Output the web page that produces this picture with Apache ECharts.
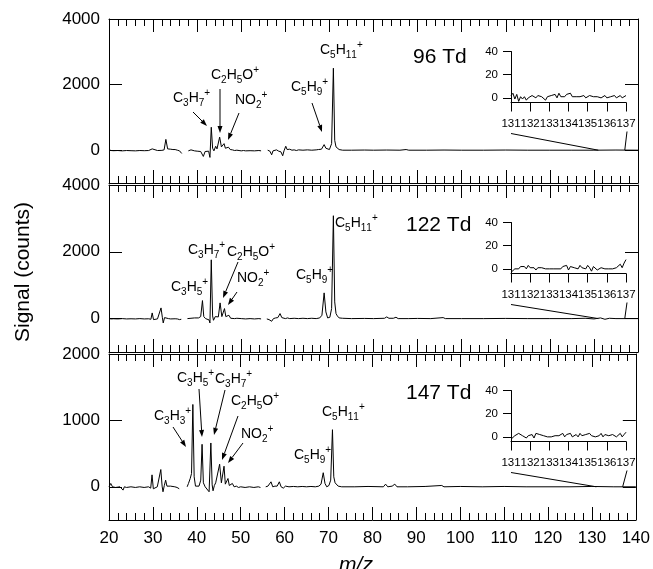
<!DOCTYPE html>
<html lang="en">
<head>
<meta charset="UTF-8" />
<title>Mass spectra</title>
<script src="https://cdn.jsdelivr.net/npm/echarts@6/dist/echarts.min.js"></script>
<style>body { margin: 0; background: #fff; }</style>
</head>
<body>
<div id="main" style="width: 653px; height: 569px;"></div>
<script>
// [m/z, signal], '-' = gap in the scan
const spec96 = [
  [20, 10], [20.2, -30], [20.5, -10], [21, -15], [22, -10], [23, -20], [24, -10], [25, -15], [26, -20], [27, -10],
  [28, -15], [29, -10], [29.8, 40], [30.1, -20], [31, -10], [32, -5], [32.5, 10], [32.9, 330], [33.3, 40], [34, 30],
  [34.5, 20], [35, 20], [35.5, 0], [36, -20], [36.3, -40], [36.5, -100], [36.8, '-'], [38, -20], [38.3, -60], [38.6, 10],
  [39, -40], [39.4, -20], [39.7, -50], [40, -30], [40.4, -60], [40.8, -40], [41.1, -20], [41.4, -190], [41.8, -40], [42.2, -60],
  [42.6, -30], [42.9, -220], [43.2, 700], [43.5, 60], [43.8, -20], [44.2, 120], [44.5, 40], [44.8, 80], [45.1, 400], [45.5, 100],
  [45.8, 60], [46.1, 200], [46.4, 60], [46.8, 30], [47.1, 90], [47.5, 20], [48, 10], [48.5, -10], [49, 0], [49.5, -10],
  [50, -20], [50.5, -10], [51, -20], [52, -15], [53, -20], [54, -10], [54.5, -20], [54.7, '-'], [56, 0], [56.5, -30],
  [56.9, -140], [57.2, -20], [57.6, -40], [58, 10], [58.5, -30], [59, -50], [59.4, -170], [59.7, -20], [60.1, 120], [60.4, 20],
  [61, 30], [61.5, 0], [62, 10], [62.5, -10], [63, 10], [64, 0], [65, 10], [66, 0], [67, 10], [67.5, 20],
  [68.2, 30], [68.8, 170], [69.2, 60], [69.6, 10], [70, 20], [70.5, 200], [70.9, 2500], [71.2, 300], [71.5, 100], [71.8, 60],
  [72.2, 20], [73, 0], [75, 0], [78, 5], [80, 0], [83, 5], [86, 0], [87.4, 20], [88, 0], [92, 0],
  [96, 5], [100, 0], [105, 0], [110, 5], [115, 0], [120, 0], [125, 0], [130, 0], [135, 5], [140, 0]
];
const spec122 = [
  [20, 0], [20.5, -10], [21, -5], [22, -10], [23, 0], [24, -10], [25, -5], [26, -10], [27, 0], [28, -10],
  [29, -5], [29.5, -20], [29.8, 170], [30.1, -30], [30.5, 0], [31, -10], [31.4, 20], [31.8, 320], [32.1, 40], [32.3, -130],
  [32.6, 30], [33, 10], [33.5, 0], [34, -10], [35, -5], [35.5, -10], [36, -30], [36.4, -20], [36.6, '-'], [37.8, 0],
  [38.2, -20], [38.6, 10], [39, -10], [39.4, 20], [39.8, 0], [40.3, 20], [40.8, 60], [41.2, 540], [41.5, 60], [41.9, 0],
  [42.3, 10], [42.7, -40], [42.9, -130], [43.2, 1760], [43.5, 80], [43.7, -50], [44.1, 60], [44.4, 20], [44.8, 50], [45.2, 470],
  [45.6, 60], [45.9, 60], [46.2, 300], [46.5, 60], [46.9, 20], [47.2, 100], [47.6, 10], [48, 20], [48.5, 0], [49, 10],
  [50, 0], [51, -10], [52, 0], [53, -10], [54, 0], [54.5, -10], [54.7, '-'], [55.8, -10], [56.3, -30], [56.9, -80],
  [57.3, 0], [57.8, 20], [58.3, 30], [58.8, 150], [59.2, 30], [59.6, 60], [60, 0], [60.5, 20], [61, 0], [62, 10],
  [63, 0], [64, 10], [65, 0], [66, 10], [67, 0], [67.8, 20], [68.3, 100], [68.8, 770], [69.2, 200], [69.6, 20],
  [70.1, 40], [70.5, 300], [70.9, 3080], [71.2, 500], [71.5, 150], [71.8, 80], [72.2, 20], [73, 10], [75, 0], [78, 5],
  [80, 0], [82.5, 10], [83, 50], [83.5, 10], [84.5, 10], [85.1, 40], [85.6, 0], [88, 0], [90, 5], [93, 0],
  [95.8, 30], [96.3, 0], [100, 0], [105, 0], [110, 5], [115, 0], [120, 0], [125, 0], [128, 10], [130, -10],
  [131.5, 20], [132.5, -20], [133.5, 10], [135, 0], [140, 0]
];
const spec147 = [
  [20, 0], [20.4, 50], [20.8, 0], [21.5, -10], [22.5, 0], [23.2, -50], [23.5, 0], [24, -10], [25, 0], [26, -10],
  [27, 0], [28, -10], [29, 0], [29.5, -20], [29.8, 180], [30.1, -30], [30.4, 0], [31, 0], [31.4, 20], [31.8, 260],
  [32.1, 10], [32.3, -75], [32.6, 20], [32.9, 100], [33.2, 10], [33.6, 0], [34, 10], [35, 0], [35.5, -10], [36, -30],
  [36.2, '-'], [37.8, 0], [38.1, 50], [38.5, 125], [38.8, 200], [39.1, 1240], [39.4, 150], [39.7, 10], [40.1, 0], [40.5, 10],
  [40.9, 100], [41.2, 640], [41.5, 60], [41.9, 0], [42.3, 10], [42.8, -75], [43.2, 660], [43.5, 30], [43.7, -60], [44, 20],
  [44.3, 60], [44.7, 30], [45.2, 340], [45.6, 60], [45.8, 60], [46.2, 310], [46.5, 40], [46.8, 30], [47.1, 125], [47.4, 20],
  [47.8, 10], [48.1, 50], [48.5, 0], [49, 10], [49.5, -10], [50, 0], [51, -10], [52, 0], [53, -10], [54, 0],
  [54.5, -10], [54.7, '-'], [55.7, 0], [56.2, 10], [56.9, 75], [57.3, 0], [57.8, 10], [58.3, 10], [58.8, 75], [59.2, 0],
  [59.7, -20], [60.2, 10], [61, 0], [62, 5], [63, 0], [64, 5], [65, 0], [66, 5], [67, 0], [67.8, 10],
  [68.3, 40], [68.8, 212], [69.2, 50], [69.6, 0], [70.1, 20], [70.5, 100], [70.9, 860], [71.2, 150], [71.5, 60], [71.8, 30],
  [72.2, 10], [73, 0], [76, 0], [79, 5], [82.5, 0], [83, 40], [83.5, 0], [84.5, 10], [85.1, 40], [85.6, 0],
  [88, 0], [92, 5], [95.8, 20], [96.3, 0], [100, 5], [105, 0], [110, 5], [115, 0], [120, 0], [125, 0],
  [130, 5], [135, 0], [140, 0]
];

// insets: m/z 131-137
const insetMz = [
  131, 131.1, 131.2, 131.3, 131.4, 131.5, 131.6, 131.7, 131.8, 131.9,
  132, 132.1, 132.2, 132.3, 132.4, 132.5, 132.6, 132.7, 132.8, 132.9,
  133, 133.1, 133.2, 133.3, 133.4, 133.5, 133.6, 133.7, 133.8, 133.9,
  134, 134.1, 134.2, 134.3, 134.4, 134.5, 134.6, 134.7, 134.8, 134.9,
  135, 135.1, 135.2, 135.3, 135.4, 135.5, 135.6, 135.7, 135.8, 135.9,
  136, 136.1, 136.2, 136.3, 136.4, 136.5, 136.6, 136.7, 136.8, 136.9,
  137
];
const inset96 = [2, 4, -1, 3, -3, 1, -1, 1, -2, 0, 1, 2, 1, 0, 2, 2, 1, 2, -2, 1, 0, 2, 1, 3, 0, 4, 1, 2, 1, 3,
  2, 4, 1, 2, 1, 2, 1, 1, 2, 0, 1, 2, 1, 1, 0, 1, 1, 0, 1, 2, 0, 1, 1, 0, 2, 0, 1, 2, 0, 1, 2];
const inset122 = [-3, -2, 0, 1, 0, 2, 1, 2, 0, 3, 1, 0, 1, -1, 1, 2, 1, 2, 0, 1, 0, -1, 0, 1, 0, 1, 0, 2, 1, 3,
  -1, 2, 3, 1, 2, 0, 3, 1, 2, 0, 3, 1, -2, 2, 1, -1, 0, 1, 0, 0, 1, 0, 1, 0, 1, 1, 0, 4, 1, 5, 8];
const inset147 = [-2, -1, 1, 0, 3, 4, 1, 2, -1, 1, 0, 2, -1, 3, 2, 2, 1, 1, 0, 0, -1, 0, 0, 1, 0, 1, 1, 3, 0, 2,
  1, 3, 0, 1, 2, 0, 3, 1, 0, 2, 1, 3, 1, 2, 0, 1, 1, 3, 0, 2, 3, 1, 0, 2, 1, 0, 1, 3, 0, 2, 4];

const panelNames = ['96 Td', '122 Td', '147 Td'];
const yRanges = [[-1000, 4000], [-1000, 4000], [-500, 2000]];
const yTickValues = [[0, 2000, 4000], [0, 2000, 4000], [0, 1000, 2000]];
const insetTickValues = [0, 20, 40];

// ion labels: formula, label left / middle, optional arrow [x1, y1, x2, y2]
const ionLabels = [
  [
    ['C_3H_7^+', 173, 98, [193, 112, 207, 126]],
    ['C_2H_5O^+', 211, 75, [220, 89, 220, 133]],
    ['NO_2^+', 235, 100, [239, 113, 228, 140]],
    ['C_5H_9^+', 291, 87, [312, 103, 322, 132]],
    ['C_5H_1_1^+', 320, 50]
  ],
  [
    ['C_3H_5^+', 171, 287],
    ['C_3H_7^+', 188, 250],
    ['C_2H_5O^+', 227, 252, [238, 262, 223, 298]],
    ['NO_2^+', 237, 278, [237, 292, 228, 305]],
    ['C_5H_9^+', 296, 275],
    ['C_5H_1_1^+', 335, 223]
  ],
  [
    ['C_3H_3^+', 154, 416, [173, 427, 186, 447]],
    ['C_3H_5^+', 177, 378, [199, 389, 202, 437]],
    ['C_3H_7^+', 215, 379, [225, 390, 214, 435]],
    ['C_2H_5O^+', 231, 401, [238, 416, 222, 460]],
    ['NO_2^+', 241, 434, [243, 443, 228, 463]],
    ['C_5H_9^+', 294, 455],
    ['C_5H_1_1^+', 322, 412]
  ]
];

const font = 'Liberation Sans, Arial, sans-serif';
const black = '#000';
const plain = v => String(v);
const panels = [
  { top: 19, height: 164, spec: spec96, inset: inset96, insetTop: 51.5, name: [413, 57] },
  { top: 185, height: 167, spec: spec122, inset: inset122, insetTop: 222.5, name: [406, 225] },
  { top: 354, height: 166, spec: spec147, inset: inset147, insetTop: 390.5, name: [406, 393] }
];

const myChart = echarts.init(document.getElementById('main'));

const grid = [], xAxis = [], yAxis = [], series = [];
panels.forEach((p, i) => {
  grid.push({ left: 109, right: 15, top: p.top, height: p.height });
  const xBase = {
    gridIndex: i, type: 'value', min: 20, max: 140, interval: 10,
    axisLine: { onZero: false, lineStyle: { color: black, width: 1 } },
    axisTick: { inside: true, length: 13, lineStyle: { color: black } },
    minorTick: { show: true, splitNumber: 5, length: 7, lineStyle: { color: black } },
    splitLine: { show: false }
  };
  xAxis.push(Object.assign({}, xBase, {
    position: 'bottom',
    axisLabel: { show: i === 2, color: black, fontSize: 17, fontFamily: font, margin: 10, formatter: plain }
  }));
  xAxis.push(Object.assign({}, xBase, { position: 'top', axisLabel: { show: false } }));
  const yBase = {
    gridIndex: i, type: 'value', min: yRanges[i][0], max: yRanges[i][1],
    axisLine: { show: true, onZero: false, lineStyle: { color: black, width: 1 } },
    axisTick: { inside: true, length: 13, customValues: yTickValues[i], lineStyle: { color: black } },
    splitLine: { show: false }
  };
  yAxis.push(Object.assign({}, yBase, {
    position: 'left',
    axisLabel: { customValues: yTickValues[i], color: black, fontSize: 17, fontFamily: font, margin: 9, formatter: plain }
  }));
  yAxis.push(Object.assign({}, yBase, { position: 'right', axisLabel: { show: false } }));
  series.push({
    type: 'line', xAxisIndex: 2 * i, yAxisIndex: 2 * i, data: p.spec,
    symbol: 'none', lineStyle: { color: black, width: 1 }, z: 3
  });
});

panels.forEach((p, i) => {
  grid.push({ left: 511, width: 115, top: p.insetTop, height: 51 });
  xAxis.push({
    gridIndex: 3 + i, type: 'value', min: 131, max: 137, interval: 1, position: 'bottom',
    axisLine: { onZero: false, lineStyle: { color: black, width: 1 } },
    axisTick: { inside: false, length: 9, lineStyle: { color: black } },
    axisLabel: { interval: 0, color: black, fontSize: 11.5, fontFamily: font, margin: 15, formatter: plain },
    splitLine: { show: false }
  });
  yAxis.push({
    gridIndex: 3 + i, type: 'value', min: -4, max: 40, position: 'left',
    axisLine: { show: true, onZero: false, lineStyle: { color: black, width: 1 } },
    axisTick: { inside: false, length: 8, customValues: insetTickValues, lineStyle: { color: black } },
    axisLabel: { customValues: insetTickValues, color: black, fontSize: 11.5, fontFamily: font, margin: 13 },
    splitLine: { show: false }
  });
  series.push({
    type: 'line', xAxisIndex: 6 + i, yAxisIndex: 6 + i,
    data: insetMz.map((m, k) => [m, p.inset[k]]),
    symbol: 'none', lineStyle: { color: black, width: 1 }, z: 3
  });
});

myChart.setOption({
  animation: false,
  backgroundColor: '#fff',
  grid, xAxis, yAxis, series
});

// chemical formula -> rich text (_ subscript, ^ superscript)
function formula(s) {
  let out = '';
  for (let k = 0; k < s.length; k++) {
    if (s[k] === '_') { out += '{b|' + s[++k] + '}'; }
    else if (s[k] === '^') { out += '{p|' + s[++k] + '}'; }
    else { out += '{m|' + s[k] + '}'; }
  }
  return out;
}
const rich = {
  m: { fontSize: 14, lineHeight: 20, fontFamily: font, fill: black },
  b: { fontSize: 10, lineHeight: 15, verticalAlign: 'bottom', fontFamily: font, fill: black },
  p: { fontSize: 10, lineHeight: 5, verticalAlign: 'top', fontFamily: font, fill: black }
};

function arrow(a) {
  const [x1, y1, x2, y2] = a;
  const len = Math.hypot(x2 - x1, y2 - y1);
  const ux = (x2 - x1) / len, uy = (y2 - y1) / len;
  const bx = x2 - ux * 7, by = y2 - uy * 7;
  return [
    { type: 'line', shape: { x1, y1, x2: bx, y2: by }, style: { stroke: black, lineWidth: 1 }, z: 10 },
    { type: 'polygon', shape: { points: [[x2, y2], [bx - uy * 2.5, by + ux * 2.5], [bx + uy * 2.5, by - ux * 2.5]] },
      style: { fill: black }, z: 10 }
  ];
}

const graphic = [];
panels.forEach((p, i) => {
  graphic.push({
    type: 'text', x: p.name[0], y: p.name[1], z: 10,
    style: { text: panelNames[i], fill: black, fontSize: 21, fontFamily: font, verticalAlign: 'middle' }
  });
  ionLabels[i].forEach(l => {
    graphic.push({
      type: 'text', x: l[1], y: l[2], z: 10,
      style: { text: formula(l[0]), rich, verticalAlign: 'middle', align: 'left' }
    });
    if (l[3]) graphic.push(...arrow(l[3]));
  });
  // lines joining each inset to the m/z 131-137 stretch it magnifies
  const c0 = myChart.convertToPixel({ xAxisIndex: 6 + i, yAxisIndex: 6 + i }, [131, -4]);
  const c1 = myChart.convertToPixel({ xAxisIndex: 6 + i, yAxisIndex: 6 + i }, [137, -4]);
  const m0 = myChart.convertToPixel({ xAxisIndex: 2 * i, yAxisIndex: 2 * i }, [131, 0]);
  const m1 = myChart.convertToPixel({ xAxisIndex: 2 * i, yAxisIndex: 2 * i }, [137, 0]);
  graphic.push({ type: 'line', shape: { x1: c0[0], y1: c0[1] + 31, x2: m0[0], y2: m0[1] }, style: { stroke: black, lineWidth: 1 }, z: 10 });
  graphic.push({ type: 'line', shape: { x1: c1[0] + 1, y1: c1[1] + 29, x2: m1[0], y2: m1[1] }, style: { stroke: black, lineWidth: 1 }, z: 10 });
});
graphic.push({
  type: 'text', x: 23, y: 272, rotation: Math.PI / 2, z: 10,
  style: { text: 'Signal (counts)', fill: black, fontSize: 21, fontFamily: font, align: 'center', verticalAlign: 'middle' }
});
graphic.push({
  type: 'text', x: 356, y: 565, z: 10,
  style: { text: 'm/z', fill: black, fontSize: 21, fontStyle: 'italic', fontFamily: font, align: 'center', verticalAlign: 'middle' }
});

myChart.setOption({ graphic });
</script>
</body>
</html>
